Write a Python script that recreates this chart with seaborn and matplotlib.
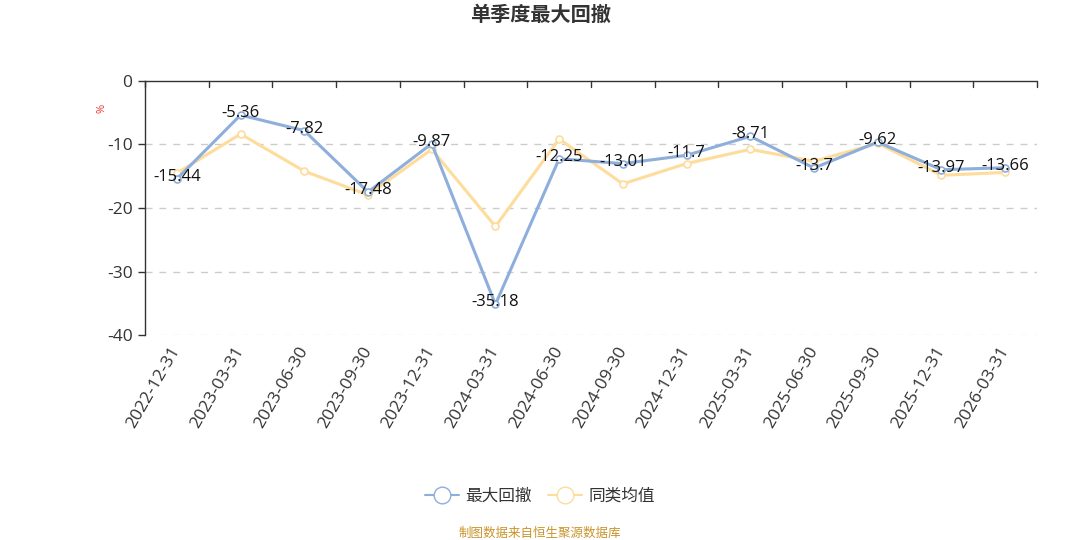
import numpy as np
import pandas as pd
import seaborn as sns
import matplotlib.pyplot as plt
from matplotlib.lines import Line2D

dates = ["2022-12-31", "2023-03-31", "2023-06-30", "2023-09-30", "2023-12-31",
         "2024-03-31", "2024-06-30", "2024-09-30", "2024-12-31", "2025-03-31",
         "2025-06-30", "2025-09-30", "2025-12-31", "2026-03-31"]
max_dd = [-15.44, -5.36, -7.82, -17.48, -9.87, -35.18, -12.25, -13.01, -11.7,
          -8.71, -13.7, -9.62, -13.97, -13.66]
peer_avg = [-14.5, -8.35, -14.2, -17.95, -10.76, -22.9, -9.13, -16.2, -13.0,
            -10.76, -12.65, -9.8, -14.85, -14.4]

sns.set_theme(style="white")
plt.rcParams['font.family'] = ['Open Sans', 'Noto Sans CJK SC', 'DejaVu Sans']

blue = "#8eaedb"
yellow = "#fddc9c"

fig = plt.figure(figsize=(10.8, 5.4), dpi=100)
ax = fig.add_axes([145 / 1080, 1 - 335 / 540, 892 / 1080, 254 / 540])

x = np.arange(len(dates))
df = pd.DataFrame({"x": x, "最大回撤": max_dd, "同类均值": peer_avg})

sns.lineplot(data=df, x="x", y="同类均值", ax=ax, color=yellow, linewidth=2.2,
             marker="o", markersize=5, markerfacecolor="white",
             markeredgecolor=yellow, markeredgewidth=1.2, zorder=3)
sns.lineplot(data=df, x="x", y="最大回撤", ax=ax, color=blue, linewidth=2.2,
             marker="o", markersize=5, markerfacecolor="white",
             markeredgecolor=blue, markeredgewidth=1.2, zorder=4)

for xi, v in zip(x, max_dd):
    ax.text(xi, v + 0.3, f"{v:g}", ha="center", va="center", fontsize=12,
            color="#111111", zorder=5)

ax.set_xlim(-0.5, len(dates) - 0.5)
ax.set_ylim(-40, 0)
ax.set_yticks([0, -10, -20, -30, -40])
ax.set_yticklabels(["0", "-10", "-20", "-30", "-40"], fontsize=12.5, color="#333333")
ax.set_xticks(x)
ax.set_xticklabels(dates, rotation=60, ha="right", va="center",
                   rotation_mode="anchor", fontsize=12.5, color="#333333")
ax.tick_params(axis="x", length=0, pad=9)
ax.tick_params(axis="y", length=5, width=1, color="#333333", direction="out",
               left=True, pad=4)
ax.set_xlabel("")
ax.set_ylabel("")

for s in ["top", "right", "bottom"]:
    ax.spines[s].set_visible(False)
ax.spines["left"].set_color("#333333")
ax.spines["left"].set_linewidth(1)

for g in [-10, -20, -30]:
    ax.axhline(g, color="#cccccc", linestyle=(0, (5, 5)), linewidth=1, zorder=1)
ax.axhline(-40, color="#e3e3e3", linestyle=(0, (5, 5)), linewidth=1, zorder=1)

# category axis at y=0 with ticks at band boundaries
ax.axhline(0, color="#333333", linewidth=1, zorder=2, clip_on=False)
for b in np.arange(-0.5, len(dates), 1.0):
    ax.plot([b, b], [0, -0.9], color="#333333", linewidth=1, clip_on=False, zorder=2)

fig.text(102 / 1080, 1 - 108 / 540, "%", color="#e8312f", fontsize=8,
         rotation=90, ha="center", va="center")

fig.text(0.5, 1 - 16 / 540, "单季度最大回撤", ha="center", va="center",
         fontsize=14.5, fontweight="bold", color="#333333")

handles = [
    Line2D([0], [0], color=blue, linewidth=1.5, marker="o", markersize=12,
           markerfacecolor="white", markeredgecolor=blue),
    Line2D([0], [0], color=yellow, linewidth=1.5, marker="o", markersize=12,
           markerfacecolor="white", markeredgecolor=yellow),
]
fig.legend(handles, ["最大回撤", "同类均值"], loc="center",
           bbox_to_anchor=(540 / 1080, 1 - 497 / 540), ncol=2, frameon=False,
           fontsize=12, handlelength=2.0, columnspacing=1.0, handletextpad=0.4,
           labelcolor="#333333")

fig.text(540 / 1080, 1 - 533 / 540, "制图数据来自恒生聚源数据库", ha="center",
         va="center", fontsize=9, color="#c8942a")

fig.savefig("out.png", dpi=100)
